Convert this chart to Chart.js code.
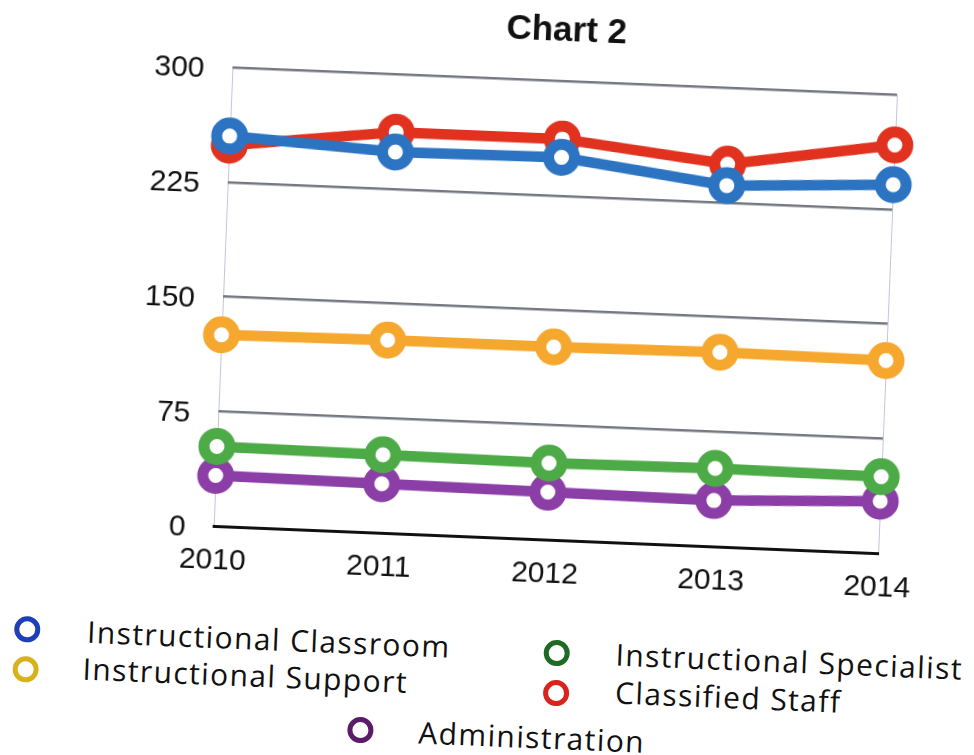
<!DOCTYPE html>
<html>
<head>
<meta charset="utf-8">
<title>Chart 2</title>
<script src="https://cdn.jsdelivr.net/npm/chart.js@4.4.1/dist/chart.umd.min.js"></script>
<style>
  html, body { margin: 0; padding: 0; background: #fff; overflow: hidden; }
  /* the scanned original sits slightly tilted, so the whole sheet is turned a little */
  #page { position: relative; width: 974px; height: 755px; transform: rotate(2.35deg); transform-origin: 487px 377px; }
  #chart { position: absolute; left: 0; top: 0; }
  .item { position: absolute; font-family: "Open Sans", sans-serif; font-size: 30px; line-height: 30px;
          letter-spacing: 1.4px; color: #111; white-space: nowrap; }
  .ring { position: absolute; width: 16px; height: 16px; border: 5px solid; border-radius: 50%; }
</style>
</head>
<body>
<div id="page">
  <canvas id="chart" width="974" height="600"></canvas>
  <div id="legend"></div>
</div>
<script>
// data
var years = ['2010', '2011', '2012', '2013', '2014'];
var classroom  = [255, 249, 250, 236, 241];
var staff      = [249, 262, 262, 250, 267];
var support    = [125, 126, 126, 127, 126];
var specialist = [52, 51, 50, 51, 50];
var admin      = [33, 32, 31, 30, 34];
var yMax = 300;
var yStep = 75;

function series(label, data, color) {
    return {
        label: label,
        data: data,
        borderColor: color,
        borderWidth: 10.5,
        pointRadius: 13,
        pointBorderWidth: 11,
        pointBorderColor: color,
        pointBackgroundColor: '#fff',
        tension: 0
    };
}

var tickFont = { family: 'Liberation Sans', size: 30 };

var ctx = document.getElementById('chart').getContext('2d');
var chart = new Chart(ctx, {
    type: 'line',
    data: {
        labels: years,
        // first dataset is painted on top
        datasets: [
            series('Instructional Classroom', classroom, '#2c74c2'),
            series('Classified Staff', staff, '#e0321f'),
            series('Instructional Support', support, '#f5a72e'),
            series('Instructional Specialist', specialist, '#4dab47'),
            series('Administration', admin, '#8b3ea6')
        ]
    },
    options: {
        responsive: false,
        animation: false,
        layout: { padding: { left: 100, right: 89, top: 7, bottom: 0 } },
        plugins: {
            legend: { display: false },
            tooltip: { enabled: false },
            title: {
                display: true,
                text: 'Chart 2',
                fullSize: false,
                color: '#111',
                font: { family: 'Liberation Sans', size: 35, weight: 'bold' },
                padding: { top: 0, bottom: 29 }
            }
        },
        scales: {
            x: {
                offset: false,
                grid: {
                    drawTicks: false,
                    lineWidth: 1,
                    color: function (c) {
                        return (c.index === 0 || c.index === years.length - 1) ? 'rgba(175,185,205,0.8)' : 'transparent';
                    }
                },
                border: { color: '#111', width: 3 },
                ticks: { padding: 17, color: '#111', font: tickFont, maxRotation: 0 },
                afterFit: function (s) { s.height = 63; }
            },
            y: {
                min: 0,
                max: yMax,
                grid: {
                    drawTicks: false,
                    lineWidth: 2.5,
                    color: function (c) {
                        return c.tick.value === 0 ? 'transparent' : 'rgba(100,105,115,0.9)';
                    }
                },
                border: { display: false },
                ticks: { stepSize: yStep, padding: 28, labelOffset: 3, color: '#111', font: tickFont },
                afterFit: function (s) { s.width = 120; }
            }
        }
    }
});

// legend laid out like the original: two columns and one centred line
var legendItems = [
    { name: 'Instructional Classroom',  color: '#1d3fb8', ring: [38, 648],  text: [98, 649] },
    { name: 'Instructional Support',    color: '#d8b21c', ring: [38, 688],  text: [95, 686] },
    { name: 'Instructional Specialist', color: '#1f6a24', ring: [568, 650], text: [627, 650] },
    { name: 'Classified Staff',         color: '#d8241c', ring: [569, 690], text: [628, 688] },
    { name: 'Administration',           color: '#5b1b68', ring: [375, 735], text: [433, 736] }
];

var legend = document.getElementById('legend');
legendItems.forEach(function (it) {
    var ring = document.createElement('div');
    ring.className = 'ring';
    ring.style.borderColor = it.color;
    ring.style.left = (it.ring[0] - 13) + 'px';
    ring.style.top = (it.ring[1] - 13) + 'px';
    legend.appendChild(ring);

    var txt = document.createElement('div');
    txt.className = 'item';
    txt.textContent = it.name;
    txt.style.left = it.text[0] + 'px';
    txt.style.top = (it.text[1] - 16) + 'px';
    legend.appendChild(txt);
});
</script>
</body>
</html>
